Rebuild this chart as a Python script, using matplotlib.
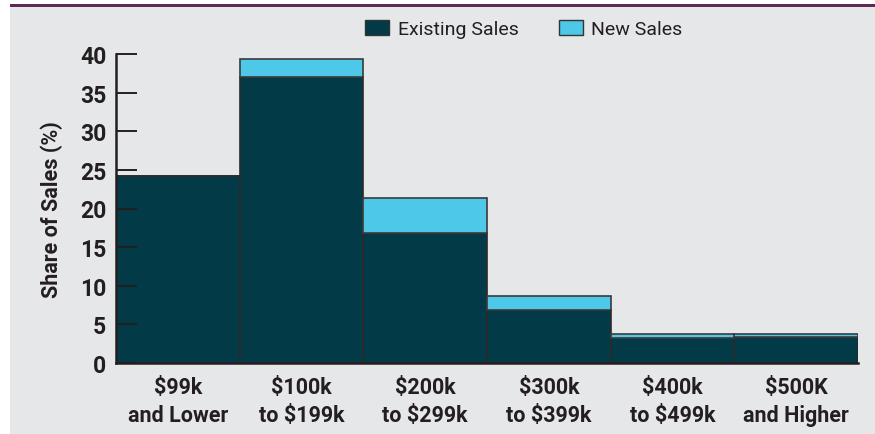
import matplotlib
matplotlib.use("Agg")
import matplotlib.pyplot as plt
from matplotlib.patches import Rectangle, Patch
import numpy as np

categories = ["$99k\nand Lower", "$100k\nto $199k", "$200k\nto $299k",
              "$300k\nto $399k", "$400k\nto $499k", "$500K\nand Higher"]
existing_sales = [24.2, 37.0, 16.8, 6.9, 3.3, 3.4]
new_sales = [0.0, 2.4, 4.5, 1.8, 0.5, 0.35]
y_ticks = [0, 5, 10, 15, 20, 25, 30, 35, 40]

C_EXIST = "#023b47"
C_NEW = "#4dc8e8"
C_TEXT = "#231f20"
C_BG = "#e6e7e9"
C_TOP = "#5e2a55"

plt.rcParams['font.family'] = ['Roboto', 'DejaVu Sans']

fig = plt.figure(figsize=(8.75, 4.35), dpi=100)
fig.patch.set_facecolor("white")
W, H = 875, 435
fig.patches.append(Rectangle((10 / W, 0), 1 - 10 / W, 1 - 5 / H, transform=fig.transFigure,
                             facecolor=C_BG, edgecolor="none", zorder=-10))
fig.patches.append(Rectangle((10 / W, 1 - 8 / H), 1 - 10 / W, 3 / H, transform=fig.transFigure,
                             facecolor=C_TOP, edgecolor="none", zorder=-9))

ax = fig.add_axes([116 / W, 1 - 364 / H, (858 - 116) / W, (364 - 55) / H])
ax.set_facecolor("none")

x = np.arange(len(categories))
ax.bar(x, existing_sales, width=1.0, color=C_EXIST, edgecolor="#2a2a2a", linewidth=1.2, zorder=2)
new_edges = ["#2a2a2a" if v == 0 else "#3a3a3a" for v in new_sales]
ax.bar(x, new_sales, bottom=existing_sales, width=1.0, color=C_NEW, edgecolor=new_edges,
       linewidth=1.2, zorder=2)

ax.set_xlim(-0.5, 5.5)
ax.set_ylim(0, 40)
ax.set_yticks(y_ticks)
ax.set_yticklabels([str(t) for t in y_ticks], fontsize=16.5, fontweight="bold", color=C_TEXT)
ax.tick_params(axis="y", direction="in", length=15, width=1.4, color=C_TEXT, pad=7)
ax.set_xticks(x)
ax.set_xticklabels(categories, fontsize=15.5, fontweight="bold", color=C_TEXT, linespacing=1.4)
ax.tick_params(axis="x", length=0, pad=9)
ax.yaxis.set_zorder(5)

for s in ["top", "right"]:
    ax.spines[s].set_visible(False)
for s in ["left", "bottom"]:
    ax.spines[s].set_color(C_TEXT)
    ax.spines[s].set_linewidth(1.8)
    ax.spines[s].set_zorder(6)

ax.set_ylabel("Share of Sales (%)", fontsize=15.5, fontweight="bold", color=C_TEXT, labelpad=12)

handles = [Patch(facecolor=C_EXIST, edgecolor="#333333", linewidth=1, label="Existing Sales"),
           Patch(facecolor=C_NEW, edgecolor="#333333", linewidth=1, label="New Sales")]
fig.legend(handles=handles, loc="center", bbox_to_anchor=(524 / W, 1 - 30 / H), ncol=2,
           frameon=False, fontsize=14, handlelength=1.2, handleheight=0.85,
           handletextpad=0.45, columnspacing=2.1, labelcolor=C_TEXT)

fig.savefig("out.png", dpi=100, facecolor=fig.get_facecolor())
